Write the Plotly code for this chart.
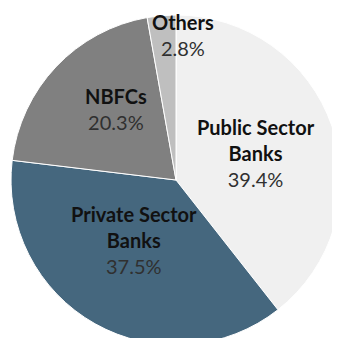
import plotly.graph_objects as go

# Share of lending by segment (%)
segments = ["Public Sector Banks", "Private Sector Banks", "NBFCs", "Others"]
shares = [39.4, 37.5, 20.3, 2.8]
label_text = ["Public Sector<br>Banks", "Private Sector<br>Banks", "NBFCs", "Others"]

colors = ["#F0F0F0", "#45677E", "#808080", "#BFBFBF"]

W, H = 340, 338
OFF = 8  # page body margin
# pie centre / radius in page pixels (pie runs off the right and bottom)
cx, cy, r = 176 - OFF, 180 - OFF, 165
# label block centres in page pixels
label_pos = [(256, 153), (134, 240), (116, 109), (183, 35)]

fig = go.Figure(go.Pie(
    labels=segments,
    values=shares,
    sort=False,
    direction="clockwise",
    rotation=0,
    textinfo="none",
    hoverinfo="label+percent",
    marker=dict(colors=colors, line=dict(color="white", width=1)),
    domain=dict(
        x=[(cx - r) / W, (cx + r) / W],
        y=[max(0, 1 - (cy + r) / H), 1 - (cy - r) / H],
    ),
    showlegend=False,
))

for name, val, (px, py) in zip(label_text, shares, label_pos):
    fig.add_annotation(
        x=(px - OFF) / W, y=1 - (py - OFF) / H, xref="paper", yref="paper",
        text=f"<b>{name}</b><br><span style='color:#303030'>{val:.1f}%</span>",
        showarrow=False, xanchor="center", yanchor="middle", align="center",
        font=dict(family="Lato", size=20, color="#111111"),
    )

fig.update_layout(
    width=W,
    height=H,
    margin=dict(l=0, r=0, t=0, b=0),
    paper_bgcolor="white",
    plot_bgcolor="white",
)

fig.write_html("out.html")
